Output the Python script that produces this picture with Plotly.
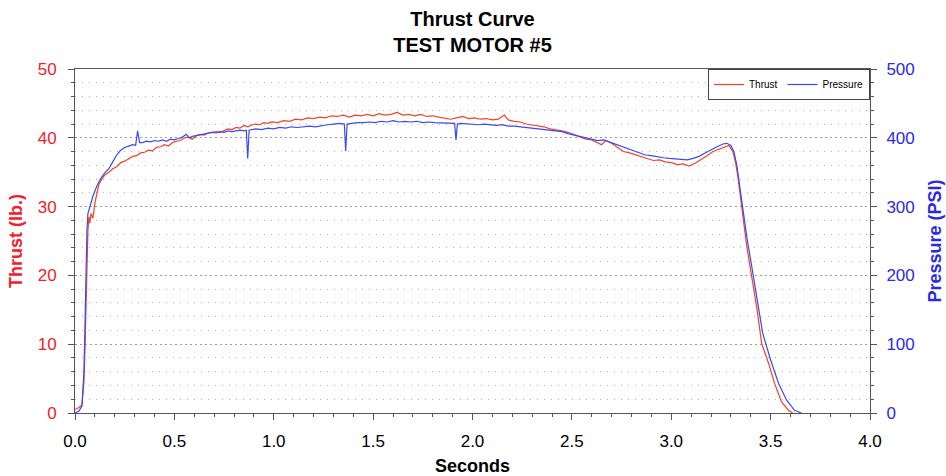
import plotly.graph_objects as go

# ---------------- data ----------------
t_thrust = [0.00, 0.02, 0.035, 0.045, 0.05, 0.055, 0.06, 0.065, 0.07, 0.075, 0.08, 0.09,
            0.10, 0.11, 0.12, 0.135, 0.15, 0.17, 0.19, 0.21, 0.23, 0.25, 0.27, 0.29,
            0.31, 0.33, 0.35, 0.37, 0.39, 0.41, 0.43, 0.45, 0.47, 0.49, 0.51, 0.53,
            0.55, 0.57, 0.59, 0.61, 0.63, 0.65, 0.67, 0.69, 0.71, 0.73, 0.75, 0.77,
            0.79, 0.81, 0.83, 0.85, 0.87, 0.89, 0.91, 0.93, 0.95, 0.97, 0.99, 1.02,
            1.05, 1.08, 1.11, 1.14, 1.17, 1.20, 1.23, 1.26, 1.29, 1.32, 1.35, 1.38,
            1.41, 1.44, 1.47, 1.50, 1.53, 1.56, 1.59, 1.62, 1.65, 1.68, 1.71, 1.74,
            1.77, 1.80, 1.83, 1.86, 1.89, 1.92, 1.95, 1.98, 2.01, 2.04, 2.07, 2.10,
            2.13, 2.16, 2.18, 2.21, 2.24, 2.27, 2.30, 2.33, 2.36, 2.39, 2.42, 2.45,
            2.48, 2.51, 2.54, 2.57, 2.60, 2.63, 2.65, 2.67, 2.70, 2.73, 2.76, 2.79,
            2.82, 2.85, 2.88, 2.91, 2.94, 2.97, 3.00, 3.03, 3.06, 3.09, 3.12, 3.15,
            3.18, 3.21, 3.24, 3.27, 3.29, 3.31, 3.325, 3.335, 3.345, 3.355, 3.37, 3.38,
            3.405, 3.43, 3.455, 3.49, 3.52, 3.555, 3.59, 3.61]
thrust = [0.5, 0.8, 1.2, 4.5, 9.0, 16.0, 22.0, 26.5, 28.5, 27.6, 29.0, 28.3,
          30.5, 32.0, 33.2, 34.0, 34.6, 35.0, 35.5, 35.8, 36.4, 36.6, 37.0, 37.3,
          37.4, 37.8, 37.9, 38.2, 38.1, 38.6, 38.7, 39.0, 38.8, 39.3, 39.5, 39.6,
          40.0, 40.1, 39.8, 40.3, 40.5, 40.4, 40.7, 40.8, 40.9, 40.8, 41.1, 41.3,
          41.2, 41.5, 41.4, 41.8, 41.6, 41.9, 42.0, 41.9, 42.2, 42.1, 42.3, 42.2,
          42.5, 42.4, 42.7, 42.6, 42.9, 42.8, 43.0, 42.9, 43.2, 43.1, 43.3, 43.0,
          43.3, 43.2, 43.4, 43.2, 43.5, 43.3, 43.4, 43.7, 43.3, 43.4, 43.2, 43.4,
          43.1, 43.2, 43.0, 42.9, 42.7, 42.9, 43.1, 42.8, 42.9, 42.7, 42.8, 42.6,
          42.7, 43.3, 42.6, 42.4, 42.3, 42.0, 41.9, 41.7, 41.6, 41.3, 41.2, 41.0,
          40.8, 40.5, 40.2, 39.8, 39.7, 39.3, 39.0, 39.6, 39.2, 38.6, 38.0, 37.8,
          37.5, 37.2, 37.0, 36.7, 36.8, 36.5, 36.4, 36.1, 36.2, 35.9, 36.3, 36.8,
          37.4, 38.0, 38.3, 38.7, 38.9, 38.0, 36.2, 34.4, 32.0, 30.0, 26.5, 24.2,
          19.8, 15.4, 10.1, 7.2, 4.3, 1.6, 0.4, 0.0]

t_pressure = [0.00, 0.02, 0.035, 0.045, 0.05, 0.055, 0.06, 0.065, 0.075, 0.09, 0.11, 0.13,
              0.15, 0.17, 0.19, 0.21, 0.23, 0.25, 0.27, 0.29, 0.305, 0.315, 0.325, 0.34,
              0.36, 0.38, 0.40, 0.42, 0.44, 0.46, 0.48, 0.50, 0.52, 0.54, 0.56, 0.575,
              0.59, 0.61, 0.63, 0.65, 0.67, 0.69, 0.71, 0.73, 0.75, 0.77, 0.79, 0.81,
              0.83, 0.85, 0.862, 0.869, 0.876, 0.89, 0.91, 0.94, 0.97, 1.00, 1.03, 1.06,
              1.09, 1.12, 1.15, 1.18, 1.21, 1.24, 1.27, 1.30, 1.33, 1.355, 1.362, 1.369,
              1.39, 1.42, 1.45, 1.48, 1.51, 1.54, 1.57, 1.60, 1.63, 1.66, 1.69, 1.72,
              1.75, 1.78, 1.81, 1.84, 1.87, 1.90, 1.91, 1.917, 1.924, 1.94, 1.97, 2.00,
              2.03, 2.06, 2.09, 2.12, 2.15, 2.18, 2.21, 2.24, 2.27, 2.30, 2.33, 2.36,
              2.39, 2.42, 2.45, 2.48, 2.51, 2.54, 2.57, 2.60, 2.63, 2.66, 2.69, 2.72,
              2.75, 2.78, 2.81, 2.84, 2.87, 2.90, 2.93, 2.96, 2.99, 3.02, 3.05, 3.08,
              3.11, 3.14, 3.17, 3.20, 3.23, 3.26, 3.28, 3.30, 3.315, 3.33, 3.345, 3.355,
              3.38, 3.405, 3.43, 3.46, 3.50, 3.54, 3.58, 3.62, 3.655]
pressure = [0, 3, 10, 60, 125, 200, 265, 290, 300, 315, 330, 341,
            349, 355, 365, 375, 382, 386, 388, 390, 389, 410, 393, 393,
            395, 394, 396, 395, 397, 395, 398, 397, 399, 401, 405, 400,
            402, 403, 405, 406, 407, 408, 407, 409, 408, 410, 409, 410,
            411, 410, 411, 370, 411, 412, 413, 412, 414, 413, 415, 414,
            416, 415, 416, 417, 416, 418, 419, 420, 421, 420, 381, 420,
            421, 422, 422, 423, 422, 424, 423, 425, 423, 424, 423, 424,
            422, 423, 422, 422, 421, 422, 421, 397, 420, 421, 420, 420,
            419, 420, 419, 418, 419, 417, 417, 416, 415, 414, 413, 411,
            411, 410, 409, 406, 404, 403, 400, 398, 396, 397, 394, 390,
            387, 384, 381, 378, 375, 374, 372, 371, 370, 369, 368, 368,
            370, 373, 378, 383, 387, 391, 392, 389, 380, 360, 330, 305,
            256, 213, 169, 116, 77, 43, 19, 4, 0]

title_lines = ["Thrust Curve", "TEST MOTOR #5"]

# ---------------- figure ----------------
FONT = "Liberation Sans, Arial, sans-serif"
RED = "#f2202a"
RED_LINE = "#f0432a"
BLUE = "#2a2ae6"
BLUE_LINE = "#3a4af0"
AX = "#555555"

fig = go.Figure()
fig.add_trace(go.Scatter(x=t_thrust, y=thrust, name="Thrust", mode="lines",
                         line=dict(color=RED_LINE, width=1.2), yaxis="y"))
fig.add_trace(go.Scatter(x=t_pressure, y=pressure, name="Pressure", mode="lines",
                         line=dict(color=BLUE_LINE, width=1.2), yaxis="y2"))

fig.update_layout(
    width=946, height=476,
    margin=dict(l=75, r=76, t=69, b=63),
    paper_bgcolor="white", plot_bgcolor="white",
    font=dict(family=FONT, size=17, color="black"),
    title=dict(text="<br>".join("<b>" + s + "</b>" for s in title_lines),
               x=0.5, xref="paper", xanchor="center",
               y=0.946, yref="container", yanchor="top",
               font=dict(size=20, color="black", family=FONT)),
    showlegend=True,
    legend=dict(orientation="h", x=1, xanchor="right", y=1, yanchor="top",
                bgcolor="white", bordercolor="#444", borderwidth=1,
                font=dict(size=10, family=FONT), itemwidth=30,
                tracegroupgap=0),
    xaxis=dict(range=[0, 4.0], dtick=0.5, tick0=0, tickformat=".1f", automargin=False,
               showgrid=False, zeroline=False,
               showline=True, linecolor=AX, linewidth=1, mirror=True,
               ticks="outside", ticklen=6, tickcolor=AX, tickwidth=1,
               minor=dict(dtick=0.1, ticks="outside", ticklen=3, tickcolor=AX, showgrid=False),
               ticklabelstandoff=7,
               tickfont=dict(size=17, color="black"),
               title=dict(text="<b>Seconds</b>", font=dict(size=18, color="black"), standoff=10)),
    yaxis=dict(range=[0, 50], dtick=10, tick0=0, automargin=False,
               showgrid=True, gridcolor="#9c9c9c", griddash="2px,3px", gridwidth=1,
               zeroline=False,
               showline=True, linecolor=AX, linewidth=1,
               ticks="outside", ticklen=6, tickcolor=AX, tickwidth=1,
               minor=dict(dtick=2, ticks="outside", ticklen=3, tickcolor=AX,
                          showgrid=True, gridcolor="#b4b4b4", griddash="1px,6px", gridwidth=1),
               ticklabelstandoff=8,
               tickfont=dict(size=17, color=RED),
               title=dict(text="<b>Thrust (lb.)</b>", font=dict(size=18, color=RED), standoff=10)),
    yaxis2=dict(range=[0, 500], dtick=100, tick0=0, overlaying="y", side="right", automargin=False,
                showgrid=False, zeroline=False,
                showline=True, linecolor=AX, linewidth=1,
                ticks="outside", ticklen=6, tickcolor=AX, tickwidth=1,
                minor=dict(dtick=20, ticks="outside", ticklen=3, tickcolor=AX, showgrid=False),
                ticklabelstandoff=6,
                tickfont=dict(size=17, color=BLUE),
                title=dict(text="<b>Pressure (PSI)</b>", font=dict(size=18, color=BLUE), standoff=14)),
    # inside-tick companions so ticks cross the axis lines
    xaxis3=dict(range=[0, 4.0], dtick=0.5, tick0=0, overlaying="x", anchor="y", side="bottom",
                automargin=False,
                showgrid=False, zeroline=False, showline=False, showticklabels=False,
                ticks="inside", ticklen=6, tickcolor=AX, tickwidth=1,
                minor=dict(dtick=0.1, ticks="inside", ticklen=3, tickcolor=AX, showgrid=False)),
    yaxis3=dict(range=[0, 50], dtick=10, tick0=0, overlaying="y", anchor="x", side="left",
                automargin=False,
                showgrid=False, zeroline=False, showline=False, showticklabels=False,
                ticks="inside", ticklen=6, tickcolor=AX, tickwidth=1,
                minor=dict(dtick=2, ticks="inside", ticklen=3, tickcolor=AX, showgrid=False)),
    yaxis4=dict(range=[0, 500], dtick=100, tick0=0, overlaying="y", anchor="x", side="right",
                automargin=False,
                showgrid=False, zeroline=False, showline=False, showticklabels=False,
                ticks="inside", ticklen=6, tickcolor=AX, tickwidth=1,
                minor=dict(dtick=20, ticks="inside", ticklen=3, tickcolor=AX, showgrid=False)),
)

fig.write_html("out.html")
